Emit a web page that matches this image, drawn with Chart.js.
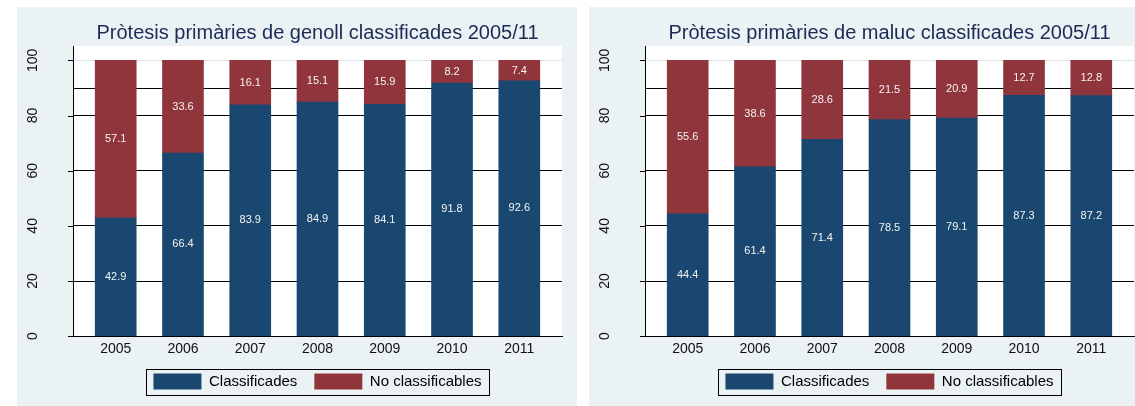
<!DOCTYPE html>
<html><head><meta charset="utf-8">
<script src="https://cdn.jsdelivr.net/npm/chart.js@4/dist/chart.umd.min.js"></script>
<style>
html,body{margin:0;padding:0;background:#fff;overflow:hidden;width:1135px;height:406px;}
.panel{position:absolute;top:7px;width:560px;height:399px;}
#p1{left:17px}
#p2{left:589px}
</style></head><body>
<div class="panel" id="p1"><canvas id="c1" width="560" height="399"></canvas></div>
<div class="panel" id="p2"><canvas id="c2" width="560" height="399"></canvas></div>
<script>
const categories = ['2005','2006','2007','2008','2009','2010','2011'];
const seriesNames = ['Classificades','No classificables'];
const kneeClassified    = [42.9, 66.4, 83.9, 84.9, 84.1, 91.8, 92.6];
const kneeNotClassified = [57.1, 33.6, 16.1, 15.1, 15.9, 8.2, 7.4];
const hipClassified     = [44.4, 61.4, 71.4, 78.5, 79.1, 87.3, 87.2];
const hipNotClassified  = [55.6, 38.6, 28.6, 21.5, 20.9, 12.7, 12.8];
const yTickValues = [0, 20, 40, 60, 80, 100];
const refLineValue = 90;
const titleKnee = 'Pròtesis primàries de genoll classificades 2005/11';
const titleHip  = 'Pròtesis primàries de maluc classificades 2005/11';

const FONT = "'Liberation Sans', Arial, sans-serif";
const COLORS = ['#1a476f', '#90353b'];
const PANEL_BG = '#eaf2f3';

const decor = {
  id: 'decor',
  afterLayout(chart) {
    const lg = chart.legend;
    const shift = -6.5;
    lg.top += shift; lg.bottom += shift;
  },
  beforeDraw(chart) {
    const {ctx, chartArea: a, width, height} = chart;
    ctx.save();
    ctx.fillStyle = PANEL_BG;
    ctx.fillRect(0, 0, width, height);
    ctx.fillStyle = '#fff';
    ctx.fillRect(a.left, a.top, a.right - a.left, a.bottom - a.top);
    ctx.restore();
  },
  beforeDatasetsDraw(chart) {
    const {ctx, chartArea: a} = chart;
    const y = Math.round(chart.scales.y.getPixelForValue(refLineValue)) + 0.5;
    ctx.save();
    ctx.strokeStyle = '#000';
    ctx.lineWidth = 1;
    ctx.beginPath();
    ctx.moveTo(a.left, y); ctx.lineTo(a.right, y);
    ctx.stroke();
    ctx.restore();
  },
  afterDatasetsDraw(chart) {
    const {ctx} = chart;
    ctx.save();
    ctx.fillStyle = '#f4f4f4';
    ctx.font = '11px ' + FONT;
    ctx.textAlign = 'center';
    ctx.textBaseline = 'middle';
    chart.data.datasets.forEach((ds, di) => {
      const meta = chart.getDatasetMeta(di);
      meta.data.forEach((bar, i) => {
        const v = ds.data[i].y;
        ctx.fillText(v.toFixed(1), bar.x, (bar.y + bar.base) / 2);
      });
    });
    ctx.restore();
  },
  afterDraw(chart) {
    const {ctx, chartArea: a} = chart;
    const ys = chart.scales.y;
    ctx.save();
    ctx.strokeStyle = '#000';
    ctx.lineWidth = 1;
    ctx.fillStyle = '#111';
    ctx.font = '14px ' + FONT;
    ctx.textAlign = 'center';
    ctx.textBaseline = 'middle';
    yTickValues.forEach(v => {
      const y = Math.round(ys.getPixelForValue(v)) + 0.5;
      ctx.beginPath();
      ctx.moveTo(a.left - 5, y); ctx.lineTo(a.left, y);
      ctx.stroke();
      ctx.save();
      ctx.translate(a.left - 40, ys.getPixelForValue(v));
      ctx.rotate(-Math.PI / 2);
      ctx.fillText(String(v), 0, 0);
      ctx.restore();
    });
    const hb = chart.legend.legendHitBoxes;
    if (hb && hb.length) {
      const l = Math.min(...hb.map(h => h.left));
      const r = Math.max(...hb.map(h => h.left + h.width));
      const t = Math.min(...hb.map(h => h.top));
      const b = Math.max(...hb.map(h => h.top + h.height));
      ctx.strokeRect(Math.round(l - 7) + 0.5, Math.round(t - 5) + 0.5, Math.round(r - l + 15), Math.round(b - t + 10));
    }
    ctx.restore();
  }
};

function makeChart(id, titleText, classified, notClassified) {
  return new Chart(document.getElementById(id), {
    type: 'bar',
    data: {
      datasets: [
        { label: seriesNames[0], data: classified.map((v, i) => ({x: i, y: v})), backgroundColor: COLORS[0], barThickness: 41 },
        { label: seriesNames[1], data: notClassified.map((v, i) => ({x: i, y: v})), backgroundColor: COLORS[1], barThickness: 41 }
      ]
    },
    options: {
      responsive: false,
      animation: false,
      devicePixelRatio: 1,
      layout: { padding: { left: 56, right: 15, top: 10, bottom: 0 } },
      plugins: {
        title: { display: true, text: titleText, color: '#1c2a57',
                 font: { family: FONT, size: 20, weight: 'normal' }, padding: { top: 4.5, bottom: 0.5 } },
        legend: { position: 'bottom', maxHeight: 43.5,
                  labels: { boxWidth: 48, boxHeight: 16, padding: 17, color: '#000',
                            font: { family: FONT, size: 15 } } },
        tooltip: { enabled: false }
      },
      scales: {
        x: {
          type: 'linear', stacked: true, offset: false, min: -0.635, max: 6.635,
          afterBuildTicks: s => { s.ticks = categories.map((c, i) => ({value: i})); },
          ticks: { callback: v => categories[v], color: '#111', font: { family: FONT, size: 14 },
                   padding: 5, autoSkip: false, maxRotation: 0 },
          grid: { display: false, drawTicks: false, offset: false },
          border: { color: '#000', width: 1 }
        },
        y: {
          stacked: true, min: 0, max: 105.2,
          afterBuildTicks: s => { s.ticks = yTickValues.map(v => ({value: v})); },
          ticks: { display: false },
          grid: { drawTicks: false, lineWidth: 1,
                  color: c => (c.tick && c.tick.value === 100) ? '#d9e4ec' : '#000' },
          border: { color: '#000', width: 1 }
        }
      }
    },
    plugins: [decor]
  });
}

makeChart('c1', titleKnee, kneeClassified, kneeNotClassified);
makeChart('c2', titleHip, hipClassified, hipNotClassified);
</script>
</body></html>
